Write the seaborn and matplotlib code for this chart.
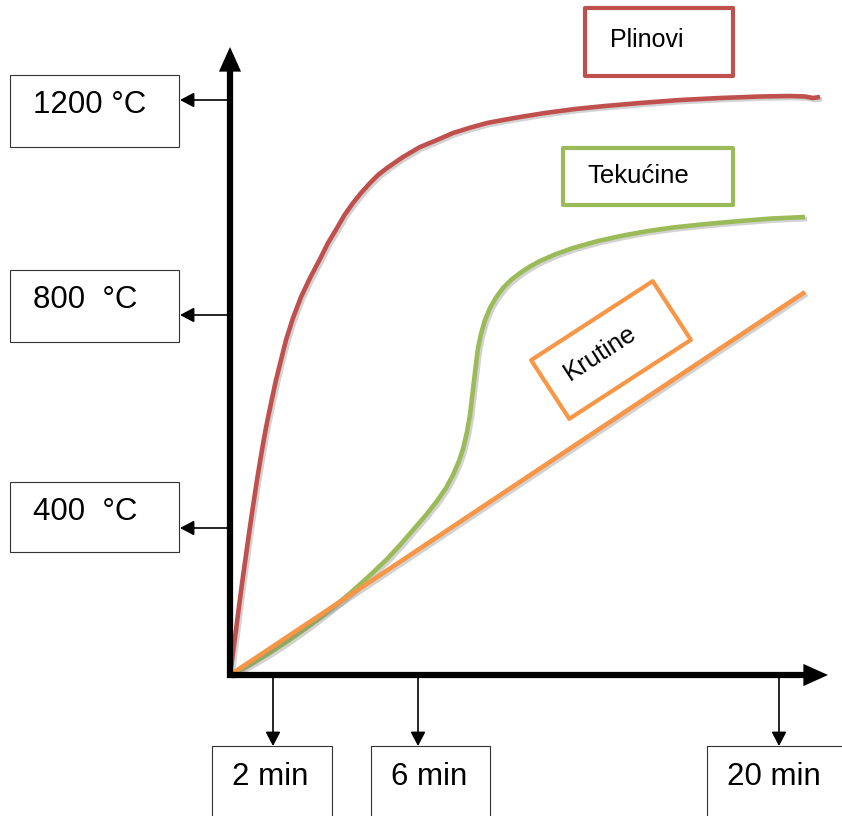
import pandas as pd
import matplotlib
matplotlib.use("Agg")
import matplotlib.pyplot as plt
import matplotlib.patheffects as pe
from matplotlib.patches import Rectangle
import seaborn as sns

# curve samples (pixel space, y grows downwards)
plinovi_x = [230, 232.7, 236, 239.2, 242.5, 246, 249.5, 253.2, 257, 259.8, 262.5, 265, 267.5,
             271.7, 276, 281, 286, 293, 301, 310, 320, 328, 337, 344.5, 353, 361, 370, 378,
             387, 403, 420, 437, 453, 469, 487, 503, 520, 545, 575, 605, 640, 680, 720, 760,
             790, 805, 813, 820]
plinovi_y = [675, 655, 630, 605, 580, 555, 530, 505, 480, 463, 447, 433, 420,
             400, 380, 360, 340, 318, 297, 278, 259, 243, 228, 215, 203, 193, 183, 175,
             168, 157, 147, 140, 133, 128, 123, 120, 117, 113, 109, 106, 103, 100, 98, 96.5,
             96, 96.5, 98, 97]

tekucine_x = [230, 242, 253, 270, 287, 303, 320, 337, 353, 370, 387, 400, 413, 426, 437, 446,
              453, 459, 463, 467, 470, 472, 474, 476, 478, 481, 485, 490, 496, 503, 511, 520,
              530, 540, 556, 573, 598, 623, 648, 673, 706, 740, 772, 805]
tekucine_y = [675, 669, 663, 652.8, 641.7, 630.5, 617.8, 604.2, 590.6, 575.3, 559.1, 545, 530,
              515, 501, 488, 475, 461, 449, 432, 415, 398, 381, 364, 348, 334, 320, 308, 297.5,
              288, 280, 273, 266.5, 261, 254, 248, 241, 235.5, 231, 227.5, 224, 221, 218.5, 217]

krutine_x = [230, 805]
krutine_y = [675, 292]

series_names = ["Plinovi", "Tekućine", "Krutine"]
series_colors = {"Plinovi": "#C0504D", "Tekućine": "#9BBB59", "Krutine": "#F79646"}

# axis origin and ends
origin = (230, 675)
y_axis_top = 47
x_axis_end = 828

# temperature labels on the left
temp_labels = ["1200 °C", "800  °C", "400  °C"]
temp_arrow_y = [100, 315, 528]
temp_box_top = [75, 270, 482]
temp_box_bottom = [147, 342, 552]
temp_text_y = [105, 300, 512]

# time labels at the bottom
time_labels = ["2 min", "6 min", "20 min"]
time_arrow_x = [273, 418, 779]
time_box_left = [212, 371, 707]
time_box_right = [332, 490, 850]

# series label boxes: (left, top, right, bottom)
plinovi_box = (585, 8, 733, 76)
tekucine_box = (563, 148, 733, 205)
krutine_box_center = (611, 350)
krutine_box_size = (145, 70)
krutine_angle = 33

sns.set_style("white")
plt.rcParams['font.family'] = ['Liberation Sans', 'DejaVu Sans']
plt.rcParams['text.color'] = 'black'

df = pd.concat([
    pd.DataFrame({"x": plinovi_x, "y": plinovi_y, "series": "Plinovi"}),
    pd.DataFrame({"x": tekucine_x, "y": tekucine_y, "series": "Tekućine"}),
    pd.DataFrame({"x": krutine_x, "y": krutine_y, "series": "Krutine"}),
])

fig = plt.figure(figsize=(8.42, 8.16), dpi=100)
ax = fig.add_axes([0, 0, 1, 1])
ax.set_xlim(0, 842)
ax.set_ylim(816, 0)
ax.axis("off")

shadow = [pe.SimpleLineShadow(offset=(1.5, -1.5), shadow_color="gray", alpha=0.35), pe.Normal()]

sns.lineplot(data=df, x="x", y="y", hue="series", hue_order=series_names,
             palette=series_colors, units="series", estimator=None, sort=False,
             linewidth=3.3, legend=False, ax=ax, zorder=3)
for line in ax.get_lines():
    line.set_path_effects(shadow)
    line.set_solid_capstyle("butt")
    line.set_solid_joinstyle("round")

# main axes with arrow heads
axis_props = dict(arrowstyle="-|>,head_length=1.0,head_width=0.45", lw=4.5, color="black",
                  shrinkA=0, shrinkB=0, joinstyle="miter", capstyle="butt")
ax.annotate("", xy=(origin[0], y_axis_top), xytext=(origin[0], origin[1] + 3),
            arrowprops=axis_props, zorder=4)
ax.annotate("", xy=(x_axis_end, origin[1]), xytext=(origin[0] - 3, origin[1]),
            arrowprops=axis_props, zorder=4)

thin_props = dict(arrowstyle="-|>,head_length=0.85,head_width=0.45", lw=1.2, color="black",
                  shrinkA=0, shrinkB=0)

# left temperature boxes
for lab, ay, top, bot, ty in zip(temp_labels, temp_arrow_y, temp_box_top, temp_box_bottom, temp_text_y):
    ax.add_patch(Rectangle((10, top), 169, bot - top, fill=False, ec="#333333", lw=0.8, zorder=2))
    ax.annotate("", xy=(180, ay), xytext=(origin[0], ay), arrowprops=thin_props, zorder=2)
    ax.text(33, ty, lab, fontsize=22.5, ha="left", va="center", color="black")

# bottom time boxes
for lab, axx, left, right in zip(time_labels, time_arrow_x, time_box_left, time_box_right):
    ax.add_patch(Rectangle((left, 746), right - left, 100, fill=False, ec="#333333", lw=0.8,
                           zorder=2, clip_on=False))
    ax.annotate("", xy=(axx, 746), xytext=(axx, origin[1]), arrowprops=thin_props, zorder=2)
    ax.text(left + 20, 777, lab, fontsize=22.5, ha="left", va="center", color="black")

# series label boxes
l, t, r, b = plinovi_box
ax.add_patch(Rectangle((l, t), r - l, b - t, fill=False, ec=series_colors["Plinovi"], lw=3,
                       joinstyle="round", zorder=3))
ax.text(610, 40, "Plinovi", fontsize=18, ha="left", va="center", color="black")

l, t, r, b = tekucine_box
ax.add_patch(Rectangle((l, t), r - l, b - t, fill=False, ec=series_colors["Tekućine"], lw=3,
                       joinstyle="round", zorder=3))
ax.text(587, 176, "Tekućine", fontsize=18.5, ha="left", va="center", color="black")

cx, cy = krutine_box_center
w, h = krutine_box_size
ax.add_patch(Rectangle((cx - w / 2, cy - h / 2), w, h, angle=-krutine_angle, rotation_point="center",
                       fill=False, ec=series_colors["Krutine"], lw=3, joinstyle="round", zorder=3))
ax.text(600, 353, "Krutine", fontsize=18.5, ha="center", va="center", rotation=krutine_angle,
        rotation_mode="anchor", color="black")

fig.savefig("out.png", dpi=100)
plt.close(fig)
